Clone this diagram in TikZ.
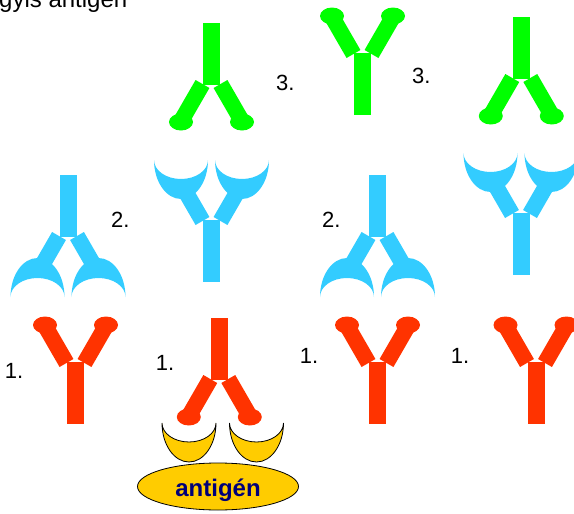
\documentclass[tikz,border=0pt]{standalone}
\usepackage{fontspec}
\setmainfont{Liberation Sans}
\usetikzlibrary{shapes.geometric}

\definecolor{abgreen}{RGB}{0,255,0}
\definecolor{abblue}{RGB}{51,204,255}
\definecolor{abred}{RGB}{255,51,0}
\definecolor{agyellow}{RGB}{255,204,0}
\definecolor{agnavy}{RGB}{0,0,120}

\tikzset{
  num/.style={anchor=base west, inner sep=0pt, font=\fontsize{22}{26}\selectfont},
  pics/crescent/.style={code={
    \path[#1] (-27,0) arc[start angle=180, end angle=0, x radius=27, y radius=39]
      arc[start angle=0, end angle=180, x radius=27, y radius=19] -- cycle;
  }},
  pics/armblob/.style={code={
    \fill[#1] (-8.5,0) rectangle (8.5,62);
    \fill[#1, rotate around={30:(-9,1)}] (-17,1) rectangle (-1,-40);
    \fill[#1, rotate around={-30:(9,1)}] (1,1) rectangle (17,-40);
    \fill[#1] (-30.5,-37) ellipse[x radius=12, y radius=8.5];
    \fill[#1] (30.5,-37) ellipse[x radius=12, y radius=8.5];
  }},
  pics/armcup/.style={code={
    \fill[#1] (-8.5,0) rectangle (8.5,62);
    \fill[#1, rotate around={30:(-9,1)}] (-17,1) rectangle (-1,-31);
    \fill[#1, rotate around={-30:(9,1)}] (1,1) rectangle (17,-31);
    \pic[transform shape] at (-30.5,-60) {crescent={fill=#1}};
    \pic[transform shape] at (30.5,-60) {crescent={fill=#1}};
  }},
}

\begin{document}
\begin{tikzpicture}[x=1pt,y=-1pt]
  \useasboundingbox (0,0) rectangle (574,514);
  \clip (0,0) rectangle (574,514);

  \node[anchor=base west, inner sep=0pt, font=\fontsize{24}{28}\selectfont] (title) at (-1,7.5) {gyis antigén};

  % 3. -- green
  \pic[rotate=180] at (211.5,85) {armblob=abgreen};
  \pic at (362.5,53) {armblob=abgreen};
  \pic[rotate=180] at (521.3,79) {armblob=abgreen};
  \node[num] (three1) at (276,90) {3.};
  \node[num] (three2) at (412,83) {3.};

  % 2. -- blue
  \pic[rotate=180] at (68,237) {armcup=abblue};
  \pic at (211.5,220) {armcup=abblue};
  \pic[rotate=180] at (377.5,237) {armcup=abblue};
  \pic at (521,213) {armcup=abblue};
  \node[num] (two1) at (111,227) {2.};
  \node[num] (two2) at (322,227) {2.};

  % 1. -- red
  \pic at (75.5,362) {armblob=abred};
  \pic[rotate=180] at (219.3,380) {armblob=abred};
  \pic at (377.5,362) {armblob=abred};
  \pic at (536,362) {armblob=abred};
  \node[num] (one1) at (4.6,378) {1.};
  \node[num] (one2) at (155.6,370) {1.};
  \node[num] (one3) at (299.6,363) {1.};
  \node[num] (one4) at (450.6,363) {1.};

  % antigen with its two binding sites
  \node[ellipse, draw=black, line width=0.8pt, fill=agyellow, minimum width=161pt,
    minimum height=47pt, text height=20pt, text depth=0pt, text=agnavy,
    font=\fontsize{24}{28}\selectfont\bfseries] (antigen) at (218,486.5) {antigén};
  \pic at (189,423) {crescent={fill=agyellow, draw=black, line width=0.8pt}};
  \pic at (256.5,423) {crescent={fill=agyellow, draw=black, line width=0.8pt}};
\end{tikzpicture}
\end{document}
